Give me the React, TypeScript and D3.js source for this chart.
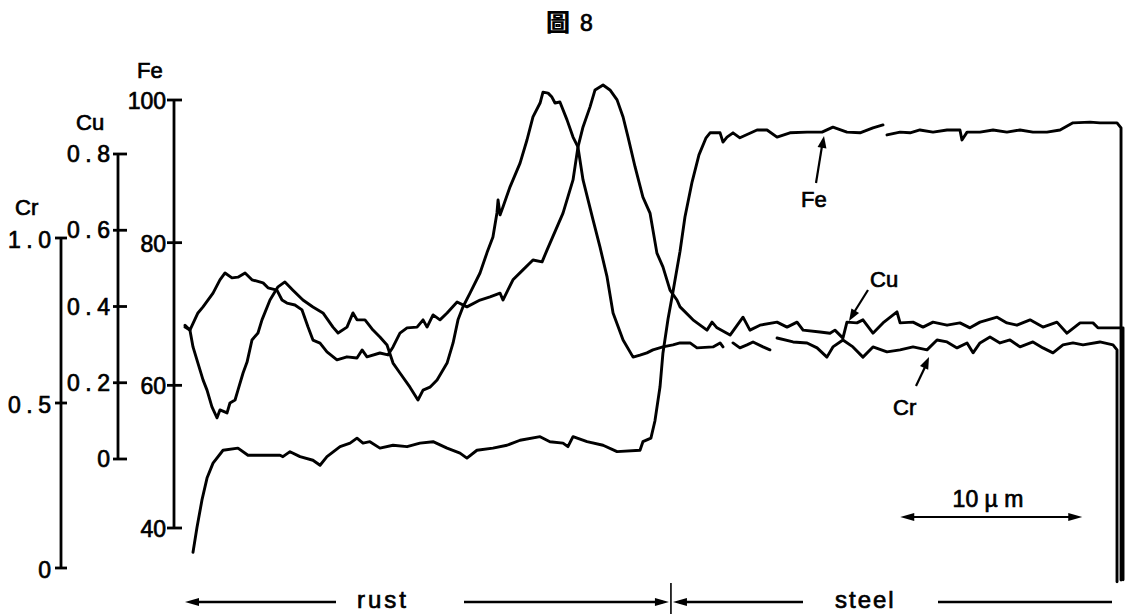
import React from "react";
import * as d3 from "d3";

type P = [number, number] | null;

// ---- data (x: distance in µm, y: signal on each element's own axis) ----
const titleChar = "圖";
const figNo = "8";

const feTicks = [40, 60, 80, 100];
const cuTicks = [0, 0.2, 0.4, 0.6, 0.8];
const crTicks = [0, 0.5, 1.0];

const feTickLabels = ["40", "60", "80", "100"];
const cuTickLabels = ["0", "0.2", "0.4", "0.6", "0.8"];
const crTickLabels = ["0", "0.5", "1.0"];

const fe: P[] = [
  [0.44, 36.6], [0.66, 40.1], [0.93, 43.9], [1.21, 47.0], [1.54, 49.1], [2.09, 50.9], [2.91, 51.2],
  [3.46, 50.2], [4.29, 50.2], [5.22, 50.2], [5.38, 50.0], [5.77, 50.7], [6.32, 50.0], [7.03, 49.5],
  [7.42, 48.8], [7.8, 50.0], [8.52, 51.4], [9.07, 51.9], [9.45, 52.6], [9.78, 51.9], [10.16, 52.1],
  [10.71, 51.2], [11.43, 51.6], [12.2, 51.4], [12.91, 51.9], [13.63, 52.1], [14.4, 51.2], [15.11, 50.5],
  [15.49, 49.8], [16.04, 50.9], [16.92, 51.2], [17.69, 51.6], [18.41, 52.3], [19.51, 52.8], [20.05, 52.1],
  [20.77, 51.9], [21.04, 51.4], [21.32, 52.8], [22.09, 52.1], [22.97, 51.6], [23.74, 50.7], [25.0, 50.9],
  [25.16, 52.1], [25.6, 52.6], [25.82, 55.0], [26.1, 59.8], [26.26, 64.5], [26.54, 69.3], [26.81, 73.1],
  [27.2, 78.8], [27.47, 83.6], [27.86, 88.5], [28.24, 92.3], [28.63, 94.7], [28.85, 95.4], [29.4, 95.4],
  [29.56, 94.1], [29.78, 94.8], [30.11, 95.4], [30.49, 94.7], [31.43, 95.8], [31.98, 95.8], [32.53, 94.8],
  [33.24, 95.4], [34.18, 95.5], [35.0, 95.5], [35.6, 96.2], [36.37, 95.5], [37.09, 95.4], [37.8, 96.1],
  [38.35, 96.5], null, [38.57, 95.1], [39.29, 95.5], [39.84, 95.4], [40.38, 95.8], [41.1, 95.5],
  [41.87, 95.8], [42.58, 95.8], [42.69, 94.4], [42.97, 95.5], [43.68, 95.5], [44.4, 95.8], [45.16, 95.5],
  [45.88, 95.8], [46.59, 95.5], [47.36, 95.5], [48.08, 95.8], [48.79, 96.8], [49.73, 96.9], [50.27, 96.8],
  [51.21, 96.8], [51.43, 96.1], [51.43, 32.7],
];

const cu: P[] = [
  [0, 0.351], [0.27, 0.338], [0.71, 0.383], [0.99, 0.399], [1.54, 0.435], [1.92, 0.47], [2.2, 0.488],
  [2.58, 0.475], [2.91, 0.477], [3.3, 0.488], [3.68, 0.47], [4.29, 0.462], [4.56, 0.449], [5.05, 0.443],
  [5.33, 0.417], [5.6, 0.409], [6.04, 0.404], [6.43, 0.391], [6.76, 0.346], [7.03, 0.312], [7.42, 0.304],
  [7.8, 0.281], [8.35, 0.26], [8.9, 0.268], [9.45, 0.265], [9.73, 0.286], [10.0, 0.268], [10.71, 0.278],
  [11.15, 0.273], [11.43, 0.294], [11.81, 0.33], [12.2, 0.344], [12.75, 0.346], [13.08, 0.365],
  [13.3, 0.346], [13.63, 0.378], [14.01, 0.365], [14.4, 0.383], [14.95, 0.412], [15.49, 0.399],
  [16.21, 0.417], [16.76, 0.425], [17.31, 0.435], [17.47, 0.417], [18.02, 0.47], [18.57, 0.496],
  [19.12, 0.522], [19.62, 0.517], [19.89, 0.548], [20.77, 0.645], [21.32, 0.732], [21.59, 0.818],
  [21.87, 0.871], [22.25, 0.923], [22.53, 0.968], [22.97, 0.981], [23.35, 0.968], [23.74, 0.942],
  [24.07, 0.897], [24.34, 0.845], [24.73, 0.766], [25.16, 0.687], [25.55, 0.645], [25.93, 0.54],
  [26.26, 0.504], [26.65, 0.443], [27.03, 0.417], [27.2, 0.399],
  [27.91, 0.365], [28.68, 0.338], [28.96, 0.359], [29.23, 0.344], [29.95, 0.325], [30.66, 0.372],
  [31.04, 0.338], [31.59, 0.351], [32.53, 0.359], [33.08, 0.346], [33.63, 0.359], [33.96, 0.338],
  [34.89, 0.333], [35.44, 0.33], [35.71, 0.338], [36.15, 0.317], [36.37, 0.359], [36.92, 0.357],
  [37.25, 0.365], [37.8, 0.33], [38.35, 0.357], [39.12, 0.386], [39.29, 0.357], [40.0, 0.359],
  [40.55, 0.346], [41.1, 0.359], [41.87, 0.351], [42.58, 0.357], [43.13, 0.344], [43.68, 0.359],
  [44.62, 0.372], [45.16, 0.357], [45.71, 0.351], [46.43, 0.365], [47.14, 0.346], [47.91, 0.359],
  [48.46, 0.33], [49.18, 0.357], [49.89, 0.357], [50.16, 0.344], [50.99, 0.344], [51.54, 0.344],
  [51.54, -0.317],
];

const cr: P[] = [
  [0, 0.73], [0.27, 0.721], [0.44, 0.67], [0.71, 0.621], [0.99, 0.57], [1.21, 0.539], [1.48, 0.488],
  [1.76, 0.455], [1.92, 0.479], [2.31, 0.47], [2.47, 0.5], [2.75, 0.509], [2.91, 0.539], [3.19, 0.591],
  [3.41, 0.624], [3.68, 0.691], [4.01, 0.712], [4.23, 0.752], [4.67, 0.812], [5.11, 0.852], [5.49, 0.867],
  [5.93, 0.842], [6.48, 0.812], [7.03, 0.791], [7.58, 0.773], [8.13, 0.73], [8.41, 0.712], [8.9, 0.73],
  [9.23, 0.773], [9.45, 0.752], [9.89, 0.752], [10.33, 0.721], [10.71, 0.7], [11.1, 0.676], [11.43, 0.621],
  [11.81, 0.591], [12.36, 0.548], [12.8, 0.509], [13.08, 0.539], [13.46, 0.548], [13.85, 0.57],
  [14.4, 0.621], [14.73, 0.682], [15.0, 0.752], [15.27, 0.791], [15.66, 0.833], [16.21, 0.894],
  [16.59, 0.955], [16.92, 1.003], [17.14, 1.076], [17.2, 1.115], [17.31, 1.07], [17.47, 1.094],
  [17.86, 1.155], [18.41, 1.227], [18.79, 1.297], [19.12, 1.367], [19.51, 1.409], [19.67, 1.442],
  [19.95, 1.439], [20.16, 1.427], [20.33, 1.409], [20.6, 1.412], [20.99, 1.358], [21.32, 1.306],
  [21.59, 1.276], [21.87, 1.176], [22.42, 1.055], [22.8, 0.973], [23.19, 0.882], [23.52, 0.773],
  [24.07, 0.691], [24.62, 0.639], [25.0, 0.645], [25.38, 0.652], [25.71, 0.661], [26.26, 0.67],
  [26.81, 0.676], [27.2, 0.682],
  [27.75, 0.682], [28.13, 0.667], [29.01, 0.67], [29.4, 0.682], [29.56, 0.67], null, [30.11, 0.682],
  [30.49, 0.667], [30.88, 0.676], [31.21, 0.685], [31.76, 0.67], [32.14, 0.661], null, [32.53, 0.697],
  [33.41, 0.685], [34.18, 0.682], [34.73, 0.667], [35.27, 0.639], [35.6, 0.67], [36.15, 0.691],
  [36.7, 0.67], [37.25, 0.639], [37.8, 0.67], [38.57, 0.655], [39.29, 0.661], [40.0, 0.67],
  [40.77, 0.661], [41.32, 0.691], [41.87, 0.685], [42.42, 0.667], [42.97, 0.682], [43.3, 0.652],
  [43.68, 0.682], [44.23, 0.7], [44.78, 0.682], [45.33, 0.691], [45.88, 0.67], [46.59, 0.685],
  [47.14, 0.667], [47.69, 0.652], [48.24, 0.676], [48.79, 0.682], [49.34, 0.676], [50.27, 0.685],
  [50.99, 0.676], [51.21, 0.661], [51.21, -0.042],
];

const scaleBarStart = 39.3; // µm
const scaleBarLen = 10; // µm
const scaleBarLabel = "10 µ m";
const rustSteelBoundary = 26.7; // µm
const regionLabels = ["rust", "steel"];

const FONT = "'Liberation Sans', Arial, Helvetica, sans-serif";

function head(tx: number, ty: number, fx: number, fy: number, len = 12, hw = 4.5) {
  const a = Math.atan2(ty - fy, tx - fx);
  const bx = tx - len * Math.cos(a);
  const by = ty - len * Math.sin(a);
  const px = -Math.sin(a) * hw;
  const py = Math.cos(a) * hw;
  return `${tx},${ty} ${bx + px},${by + py} ${bx - px},${by - py}`;
}

export default function App() {
  const W = 1132;
  const H = 614;
  const x = d3.scaleLinear().domain([0, 10]).range([185, 367]);
  const yFe = d3.scaleLinear().domain([40, 100]).range([528, 100]);
  const yCu = d3.scaleLinear().domain([0, 0.8]).range([459, 154]);
  const yCr = d3.scaleLinear().domain([0, 1]).range([568, 238]);

  const mk = (ys: d3.ScaleLinear<number, number>) =>
    d3
      .line<P>()
      .defined((d) => d !== null)
      .x((d) => x((d as [number, number])[0]))
      .y((d) => ys((d as [number, number])[1]));

  const axFe = 174;
  const axCu = 118;
  const axCr = 61;
  const sw = 2.9;

  const arrowY = 602;
  const bx = x(rustSteelBoundary);

  const textStyle: React.CSSProperties = { fontFamily: FONT };
  const ink = { stroke: "#000", strokeWidth: 0.7 };

  return (
    <svg
      width={W}
      height={H}
      viewBox={`0 0 ${W} ${H}`}
      style={{ position: "absolute", left: 0, top: 0, background: "#fff" }}
    >
      <rect x={0} y={0} width={W} height={H} fill="#fff" />
      {/* title */}
      <text x={546} y={31} fontSize={24} fontWeight={900} style={{ fontFamily: "'Noto Sans CJK TC', 'Noto Sans CJK SC', sans-serif" }}>
        {titleChar}
      </text>
      <text x={580} y={31} fontSize={23} style={textStyle} {...ink}>
        {figNo}
      </text>

      {/* axes */}
      <g stroke="#000" strokeWidth={2.8}>
        <line x1={axFe} x2={axFe} y1={yFe(100)} y2={yFe(40)} />
        {feTicks.map((t) => (
          <line key={t} x1={axFe - 7} x2={axFe + 8} y1={yFe(t)} y2={yFe(t)} />
        ))}
        <line x1={axCu} x2={axCu} y1={yCu(0.8)} y2={yCu(0)} />
        {cuTicks.map((t) => (
          <line key={t} x1={axCu - 5} x2={axCu + 9} y1={yCu(t)} y2={yCu(t)} />
        ))}
        <line x1={axCr} x2={axCr} y1={yCr(1)} y2={yCr(0)} />
        {crTicks.map((t) => (
          <line key={t} x1={axCr - 6} x2={axCr + 6} y1={yCr(t)} y2={yCr(t)} />
        ))}
      </g>
      <g fontSize={23} style={textStyle} fill="#000" {...ink}>
        {feTicks.map((t, i) => (
          <text key={t} x={166} y={yFe(t) + 9} textAnchor="end">
            {feTickLabels[i]}
          </text>
        ))}
        {cuTicks.map((t, i) => (
          <text key={t} x={110 + (t === 0 ? 0 : 5.5)} y={yCu(t) + 8} textAnchor="end" letterSpacing={t === 0 ? 0 : 5.5}>
            {cuTickLabels[i]}
          </text>
        ))}
        {crTicks.map((t, i) => (
          <text key={t} x={51 + (t === 0 ? 0 : 5.5)} y={yCr(t) + 10} textAnchor="end" letterSpacing={t === 0 ? 0 : 5.5}>
            {crTickLabels[i]}
          </text>
        ))}
        <text x={137} y={78} fontSize={22}>Fe</text>
        <text x={76} y={130} fontSize={22}>Cu</text>
        <text x={15} y={215} fontSize={22}>Cr</text>
      </g>

      {/* profiles */}
      <g fill="none" stroke="#000" strokeWidth={sw} strokeLinejoin="round" strokeLinecap="round">
        <path d={mk(yFe)(fe) || ""} />
        <path d={mk(yCu)(cu) || ""} />
        <path d={mk(yCr)(cr) || ""} />
      </g>

      {/* callouts */}
      <g stroke="#000" strokeWidth={2.2}>
        <line x1={816} y1={183} x2={822} y2={146} />
        <line x1={868} y1={290} x2={853} y2={314} />
        <line x1={916} y1={386} x2={926} y2={365} />
      </g>
      <g fill="#000">
        <polygon points={head(824, 136, 816, 183)} />
        <polygon points={head(849, 321, 868, 290)} />
        <polygon points={head(929, 357, 916, 386)} />
      </g>
      <g fontSize={22} style={textStyle} fill="#000" {...ink}>
        <text x={801} y={207}>Fe</text>
        <text x={870} y={287}>Cu</text>
        <text x={893} y={415}>Cr</text>
      </g>

      {/* scale bar */}
      <g stroke="#000" strokeWidth={2.2}>
        <line x1={x(scaleBarStart) + 8} x2={x(scaleBarStart + scaleBarLen) - 8} y1={517} y2={517} />
      </g>
      <g fill="#000">
        <polygon points={head(x(scaleBarStart), 517, x(scaleBarStart) + 20, 517, 14, 4)} />
        <polygon points={head(x(scaleBarStart + scaleBarLen), 517, x(scaleBarStart + scaleBarLen) - 20, 517, 14, 4)} />
      </g>
      <text x={988} y={507} fontSize={23} textAnchor="middle" style={textStyle} {...ink}>
        {scaleBarLabel}
      </text>

      {/* rust / steel */}
      <g stroke="#000" strokeWidth={2.3}>
        <line x1={x(0) + 8} x2={336} y1={arrowY} y2={arrowY} />
        <line x1={464} x2={bx - 8} y1={arrowY} y2={arrowY} />
        <line x1={bx} x2={bx} y1={583} y2={614} strokeWidth={1.6} />
        <line x1={bx + 8} x2={803} y1={arrowY} y2={arrowY} />
        <line x1={938} x2={1112} y1={arrowY} y2={arrowY} />
      </g>
      <g fill="#000">
        <polygon points={head(x(0), arrowY, x(0) + 20, arrowY, 14, 4)} />
        <polygon points={head(bx - 2, arrowY, bx - 22, arrowY, 14, 4)} />
        <polygon points={head(bx + 2, arrowY, bx + 22, arrowY, 14, 4)} />
      </g>
      <g fontSize={24} style={textStyle} fill="#000" {...ink}>
        <text x={357} y={608} letterSpacing={3}>{regionLabels[0]}</text>
        <text x={835} y={608} letterSpacing={2}>{regionLabels[1]}</text>
      </g>
    </svg>
  );
}
